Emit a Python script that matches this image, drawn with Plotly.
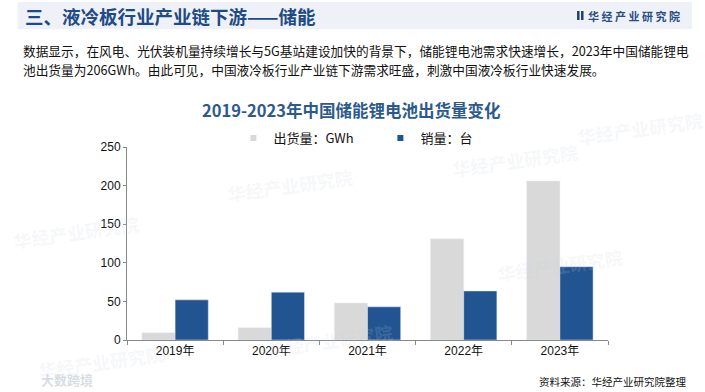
import plotly.graph_objects as go

# ---------------- data ----------------
years = ["2019年", "2020年", "2021年", "2022年", "2023年"]
shipment_gwh = [9.5, 16, 48, 131, 206]
sales_units = [52, 62, 43, 63.5, 95]
y_ticks = [0, 50, 100, 150, 200, 250]
series_names = ["出货量：GWh", "销量：台"]

GRAY = "#D9D9D9"
BLUE = "#215491"
W, H = 705, 392
L, R, T, B = 126.5, 608, 147, 340
CJK = "Liberation Sans, Noto Sans CJK SC, sans-serif"
CJKB = "Noto Sans CJK SC, sans-serif"


def px(x):
    return (x - L) / (R - L)


def py(y):
    return (B - y) / (B - T)


fig = go.Figure()
fig.add_bar(x=years, y=shipment_gwh, marker_color=GRAY, showlegend=False, name=series_names[0])
fig.add_bar(x=years, y=sales_units, marker_color=BLUE, showlegend=False, name=series_names[1])
# legend entries (small square markers)
fig.add_scatter(x=[None], y=[None], mode="markers", name=series_names[0],
                marker=dict(symbol="square", size=6, color=GRAY))
fig.add_scatter(x=[None], y=[None], mode="markers", name=series_names[1],
                marker=dict(symbol="square", size=6, color=BLUE))

shapes = [
    # header band
    dict(type="rect", xref="paper", yref="paper", x0=px(17), x1=px(692), y0=py(29), y1=py(2),
         fillcolor="#EEF2F8", line_width=0, layer="below"),
    # logo icon
    dict(type="rect", xref="paper", yref="paper", x0=px(577), x1=px(579.5), y0=py(20), y1=py(11),
         fillcolor="#1F3F73", line_width=0),
    dict(type="rect", xref="paper", yref="paper", x0=px(581), x1=px(583.5), y0=py(20), y1=py(11),
         fillcolor="#1F3F73", line_width=0),
]

annotations = [
    dict(text="<b>三、液冷板行业产业链下游——储能</b>", x=px(22), y=py(16), xanchor="left", yanchor="middle",
         font=dict(size=18.5, color="#1F4A86", family=CJKB)),
    dict(text="<b>华 经 产 业 研 究 院</b>", x=px(586), y=py(16), xanchor="left", yanchor="middle",
         font=dict(size=11, color="#2A4C80", family=CJKB)),
    dict(text="数据显示，在风电、光伏装机量持续增长与5G基站建设加快的背景下，储能锂电池需求快速增长，2023年中国储能锂电",
         x=px(20), y=py(50), xanchor="left", yanchor="middle",
         font=dict(size=12.7, color="#111111", family=CJKB)),
    dict(text="池出货量为206GWh。由此可见，中国液冷板行业产业链下游需求旺盛，刺激中国液冷板行业快速发展。",
         x=px(20), y=py(70), xanchor="left", yanchor="middle",
         font=dict(size=12.7, color="#111111", family=CJKB)),
    dict(text="<b>2019-2023年中国储能锂电池出货量变化</b>", x=px(351), y=py(110), xanchor="center", yanchor="middle",
         font=dict(size=16.5, color="#2C5A8E", family=CJKB)),
    dict(text="资料来源：华经产业研究院整理", x=px(688), y=py(381), xanchor="right", yanchor="middle",
         font=dict(size=10.5, color="#111111", family=CJKB)),
    dict(text="<b>大数跨境</b>", x=px(38), y=py(379), xanchor="left", yanchor="middle",
         font=dict(size=13, color="rgba(190,198,210,0.6)", family=CJKB)),
]

# faint watermarks
for wx, wy in [(290, 185), (515, 160), (75, 232), (560, 265), (330, 340), (100, 362), (640, 128)]:
    annotations.append(dict(text="<b>华经产业研究院</b>", x=px(wx), y=py(wy), xanchor="center", yanchor="middle",
                            textangle=-8, font=dict(size=18, color="rgba(200,208,222,0.18)", family=CJKB)))

for a in annotations:
    a.update(xref="paper", yref="paper", showarrow=False)

fig.update_layout(
    width=W, height=H,
    margin=dict(l=L, r=W - R, t=T, b=H - B, pad=0),
    paper_bgcolor="white", plot_bgcolor="rgba(0,0,0,0)",
    barmode="group", bargap=0.31, bargroupgap=0,
    font=dict(family=CJK, size=12, color="#111111"),
    showlegend=True,
    legend=dict(orientation="h", x=px(233), y=py(138), xanchor="left", yanchor="middle",
                font=dict(size=13, color="#111111", family=CJKB),
                bgcolor="rgba(0,0,0,0)", entrywidth=102, itemwidth=30),
    shapes=shapes, annotations=annotations,
)
fig.update_xaxes(showline=True, linecolor="#888888", linewidth=1, ticks="outside", tickson="boundaries",
                 ticklen=4, tickcolor="#888888", showgrid=False,
                 tickfont=dict(size=12, family=CJK, color="#111111"))
fig.update_yaxes(range=[0, 250], tickvals=y_ticks, showline=True, linecolor="#888888", linewidth=1,
                 ticks="outside", ticklen=3, tickcolor="#888888", showgrid=False, zeroline=False,
                 tickfont=dict(size=12, family="Liberation Sans, sans-serif", color="#111111"))

fig.write_html("out.html", config={"displayModeBar": False},
               post_script="document.body.style.margin='0';")
